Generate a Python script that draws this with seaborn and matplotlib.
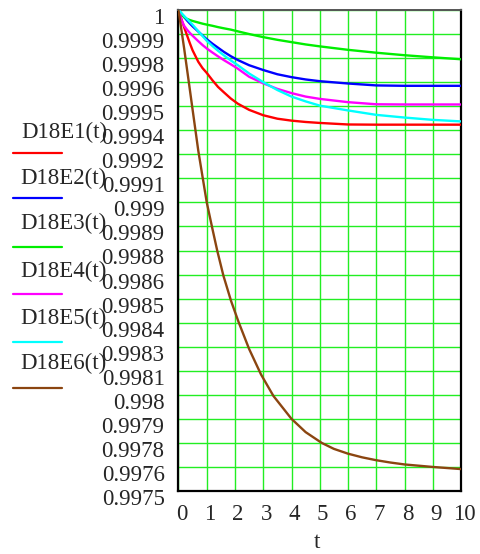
import numpy as np
import pandas as pd
import matplotlib
matplotlib.use("Agg")
import matplotlib.pyplot as plt
from matplotlib.lines import Line2D
from matplotlib.transforms import ScaledTranslation
import seaborn as sns

# Time points (t) and reliability curves for six configurations
t = [0, 0.1, 0.2, 0.3, 0.4, 0.5, 0.7, 0.85, 1.0, 1.2, 1.4, 1.6, 1.85,
     2.1, 2.5, 3.0, 3.5, 4.0, 4.5, 5.0, 6.0, 7.0, 8.0, 9.0, 10.0]

d18e1 = [1.0, 0.999954, 0.99991, 0.999869, 0.999828, 0.99979, 0.999731,
         0.999698, 0.999673, 0.999635, 0.9996, 0.999573, 0.99954, 0.999513,
         0.999481, 0.999453, 0.999435, 0.999425, 0.999418, 0.999413,
         0.999405, 0.999404, 0.999404, 0.999404, 0.999404]
d18e2 = [1.0, 0.999981, 0.999963, 0.999946, 0.99993, 0.999915, 0.999888,
         0.999868, 0.999848, 0.999825, 0.999804, 0.999783, 0.99976, 0.99974,
         0.999713, 0.999688, 0.999666, 0.999651, 0.999639, 0.99963,
         0.999618, 0.999608, 0.999606, 0.999606, 0.999606]
d18e3 = [1.0, 0.999978, 0.999963, 0.999954, 0.999948, 0.999943, 0.999935,
         0.999929, 0.999924, 0.999918, 0.999911, 0.999905, 0.999898,
         0.999889, 0.999875, 0.999859, 0.999845, 0.999833, 0.999821,
         0.999811, 0.999793, 0.999778, 0.999765, 0.999754, 0.999744]
d18e4 = [1.0, 0.99995, 0.999918, 0.999898, 0.999881, 0.999866, 0.999838,
         0.999818, 0.9998, 0.999779, 0.999759, 0.99974, 0.999718, 0.999695,
         0.999653, 0.999619, 0.99959, 0.999568, 0.99955, 0.999538,
         0.999521, 0.99951, 0.999509, 0.999509, 0.999509]
d18e5 = [1.0, 0.999985, 0.999969, 0.999953, 0.999938, 0.999923, 0.99989,
         0.999865, 0.99984, 0.999813, 0.999788, 0.999765, 0.999738,
         0.999713, 0.99967, 0.999625, 0.999584, 0.99955, 0.999525,
         0.999503, 0.999478, 0.999455, 0.999441, 0.999429, 0.999421]

# The steep curve is sampled more densely
t6 = [0, 0.1, 0.2, 0.3, 0.4, 0.5, 0.6, 0.7, 0.86, 1.0, 1.2, 1.37, 1.59,
      1.86, 2.12, 2.5, 2.92, 3.36, 4.0, 4.5, 5.07, 5.5, 6.0, 6.5, 7.0,
      7.5, 8.0, 9.0, 10.0]
d18e6 = [1.0, 0.9999, 0.9998, 0.999694, 0.999588, 0.999481, 0.999375,
         0.999269, 0.999125, 0.999, 0.998863, 0.99875, 0.998619, 0.998488,
         0.998381, 0.998238, 0.998106, 0.997994, 0.997875, 0.997806,
         0.99775, 0.997719, 0.997694, 0.997675, 0.99766, 0.997648,
         0.997638, 0.997625, 0.997614]

series_names = ["D18E1(t)", "D18E2(t)", "D18E3(t)", "D18E4(t)", "D18E5(t)", "D18E6(t)"]
series_t = [t, t, t, t, t, t6]
series_values = [d18e1, d18e2, d18e3, d18e4, d18e5, d18e6]
series_colors = ["#ff0000", "#0000ff", "#00ee00", "#ff00ff", "#00ffff", "#8b4510"]

x_tick_labels = ["0", "1", "2", "3", "4", "5", "6", "7", "8", "9", "10"]
y_tick_labels = ["0.9975", "0.9976", "0.9978", "0.9979", "0.998", "0.9981",
                 "0.9983", "0.9984", "0.9985", "0.9986", "0.9988", "0.9989",
                 "0.999", "0.9991", "0.9992", "0.9994", "0.9995", "0.9996",
                 "0.9998", "0.9999", "1"]

df = pd.concat(
    [pd.DataFrame({"t": tt, "value": v, "series": n})
     for n, tt, v in zip(series_names, series_t, series_values)],
    ignore_index=True,
)

sns.set_style("white")
plt.rcParams["font.family"] = ["Liberation Serif", "DejaVu Serif"]
FS = 16.5

fig = plt.figure(figsize=(4.81, 5.54), dpi=100)
ax = fig.add_axes([178.5 / 481, 1 - 491 / 554, (461 - 178.5) / 481, (491 - 10) / 554])

sns.lineplot(data=df, x="t", y="value", hue="series",
             palette=dict(zip(series_names, series_colors)),
             linewidth=1.7, legend=False, ax=ax, zorder=3)

ax.set_xlim(0, 10)
ax.set_ylim(0.9975, 1.0)
ax.set_xticks(np.arange(0, 11))
ax.set_xticklabels(x_tick_labels, fontsize=FS)
ax.set_yticks(np.linspace(0.9975, 1.0, 21))
ax.set_yticklabels(y_tick_labels, fontsize=FS)
ax.tick_params(axis="both", length=0)
ax.tick_params(axis="y", pad=10)
ax.tick_params(axis="x", pad=9)
ax.set_xlabel("")
ax.set_ylabel("")

ax.grid(True, color="#22ee22", linewidth=1.0, zorder=1)
ax.set_axisbelow(True)

for lbl in ax.get_yticklabels():
    lbl.set_transform(lbl.get_transform() + ScaledTranslation(0, -0.06, fig.dpi_scale_trans))
for lbl in ax.get_xticklabels():
    lbl.set_transform(lbl.get_transform() + ScaledTranslation(0.03, 0, fig.dpi_scale_trans))

for side in ["left", "bottom", "right"]:
    ax.spines[side].set_color("black")
    ax.spines[side].set_linewidth(1.6)
ax.spines["top"].set_color("#555555")
ax.spines["top"].set_linewidth(1.4)

# Stacked legend on the left: name above a short colour bar
text_y = [132, 178, 223, 271, 318, 363]
line_y = [153, 198, 247, 294, 342, 388]
for name, col, ty, ly in zip(series_names, series_colors, text_y, line_y):
    fig.text(107 / 481, 1 - ty / 554, name, ha="right", va="center", fontsize=FS)
    fig.add_artist(Line2D([13 / 481, 62 / 481], [1 - ly / 554, 1 - ly / 554],
                          color=col, linewidth=1.6, transform=fig.transFigure))

fig.text(317 / 481, 1 - 543 / 554, "t", ha="center", va="center", fontsize=FS)

fig.savefig("out.png", dpi=100)
